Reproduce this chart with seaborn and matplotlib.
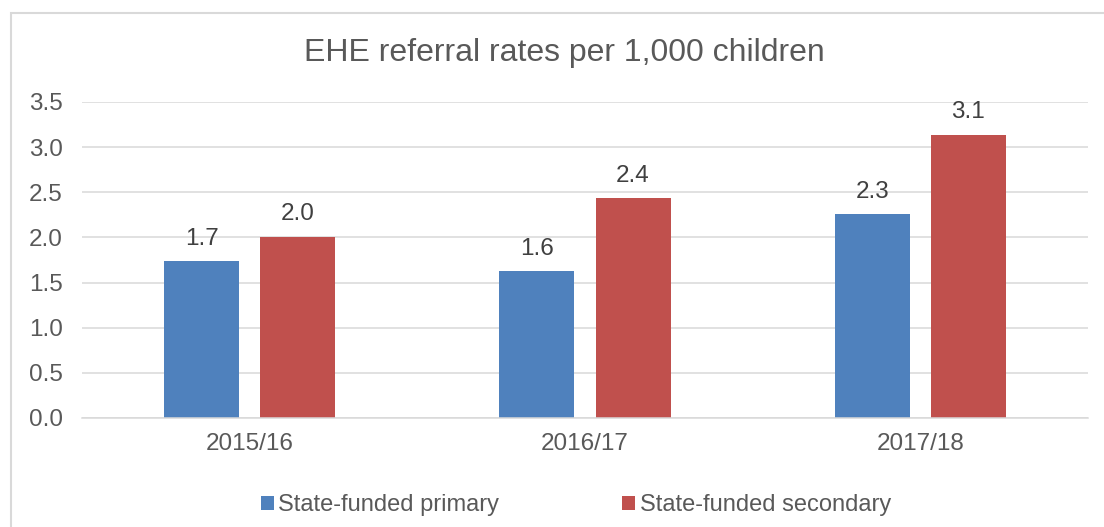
import pandas as pd
import seaborn as sns
import matplotlib
import matplotlib.pyplot as plt
from matplotlib.patches import Patch, Rectangle

matplotlib.use('Agg')

years = ['2015/16', '2016/17', '2017/18']
primary = [1.74, 1.63, 2.26]
secondary = [2.01, 2.44, 3.14]
series_names = ['State-funded primary', 'State-funded secondary']
colors = ['#4F81BD', '#C0504D']
y_ticks = [0.0, 0.5, 1.0, 1.5, 2.0, 2.5, 3.0, 3.5]

df = pd.DataFrame({
    'year': years * 2,
    'rate': primary + secondary,
    'phase': [series_names[0]] * len(years) + [series_names[1]] * len(years),
})

sns.set_theme(style="white")
plt.rcParams['font.family'] = ['Liberation Sans', 'DejaVu Sans']

W, H = 1104, 527
fig = plt.figure(figsize=(W / 100, H / 100), dpi=100)
ax = fig.add_axes([82 / W, 1 - 418 / H, (1088 - 82) / W, (418 - 102) / H])

sns.barplot(data=df, x='year', y='rate', hue='phase', palette=colors, saturation=1,
            width=0.573, gap=0.22, linewidth=0, legend=False, ax=ax)

for c in ax.containers:
    ax.bar_label(c, fmt='%.1f', padding=8, fontsize=17.5, color='#404040')

ax.set_xlim(-0.5, 2.5)
ax.set_ylim(0, 3.5)
ax.set_yticks(y_ticks)
ax.set_yticklabels([f'{t:.1f}' for t in y_ticks])
ax.grid(axis='y', color='#D9D9D9', linewidth=1.1)
ax.set_axisbelow(True)
for s in ['top', 'right', 'left']:
    ax.spines[s].set_visible(False)
ax.spines['bottom'].set_color('#D9D9D9')
ax.spines['bottom'].set_linewidth(1.1)
ax.tick_params(axis='both', length=0, labelsize=17.5, labelcolor='#595959')
ax.tick_params(axis='y', pad=14)
ax.tick_params(axis='x', pad=11)
ax.set_xlabel('')
ax.set_ylabel('')

fig.text(564 / W, 1 - 53 / H, 'EHE referral rates per 1,000 children',
         ha='center', va='center', fontsize=23, color='#595959')

handles = [Patch(facecolor=col, edgecolor='none') for col in colors]
fig.legend(handles, series_names, loc='center', bbox_to_anchor=(576 / W, 1 - 505 / H),
           ncol=2, frameon=False, fontsize=17, labelcolor='#595959',
           handlelength=0.55, handleheight=0.55, handletextpad=0.2, columnspacing=5.2)

fig.patches.append(Rectangle((10.5 / W, -0.1), 1.2, 1.1 - 12.5 / H, transform=fig.transFigure,
                             fill=False, edgecolor='#D9D9D9', linewidth=1.5))

plt.savefig('out.png', dpi=100)
plt.close(fig)
